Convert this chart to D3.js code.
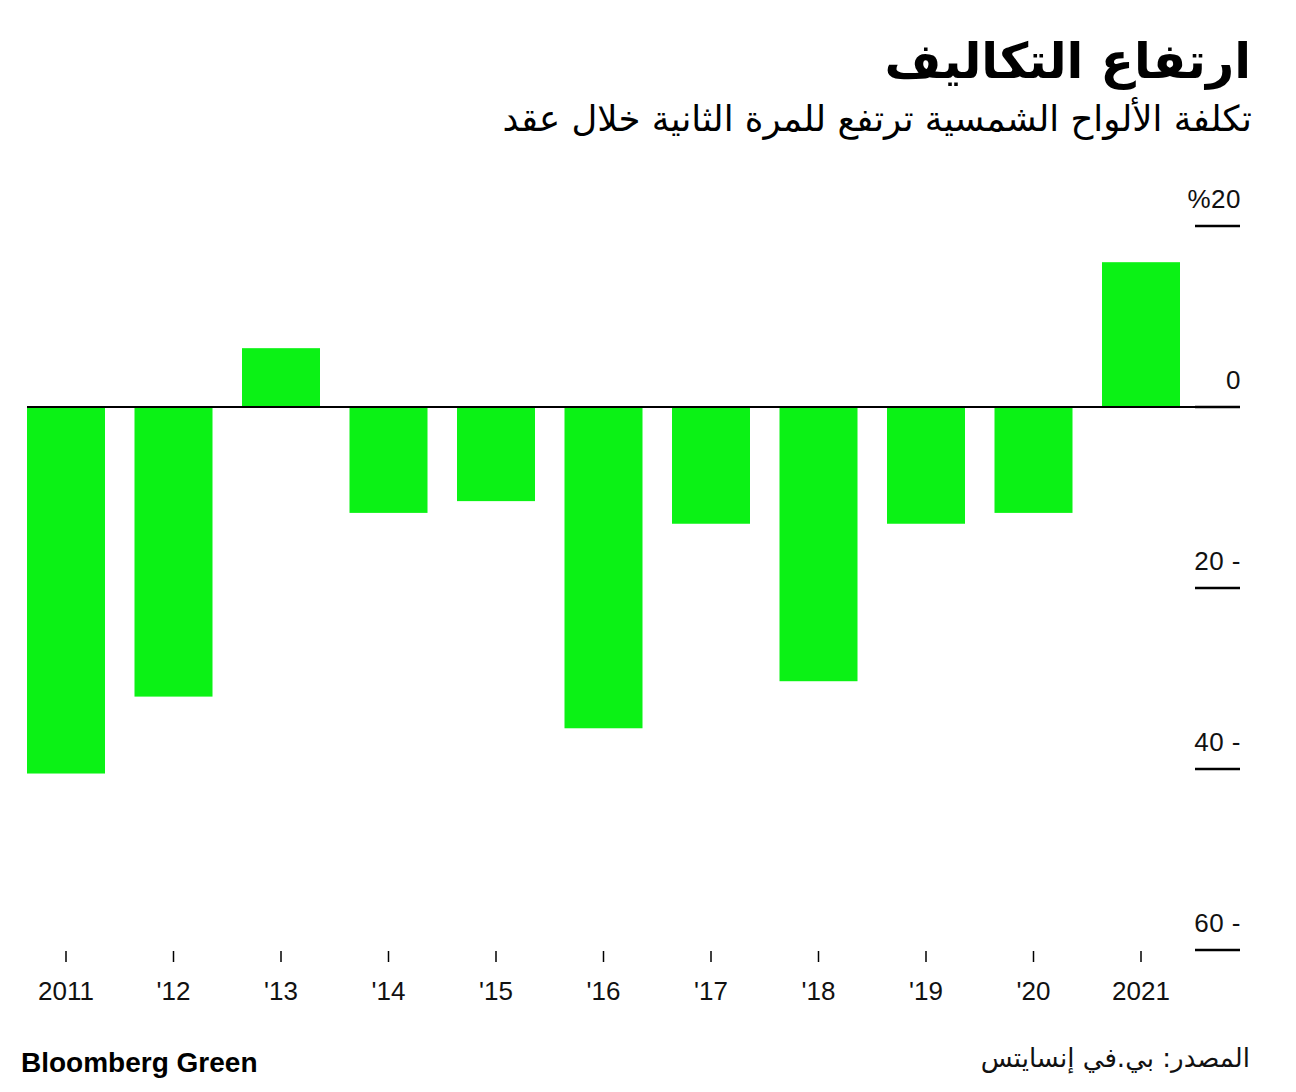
<!DOCTYPE html>
<html><head><meta charset="utf-8">
<script src="https://cdn.jsdelivr.net/npm/d3@7"></script>
<style>body{margin:0;background:#fff}</style>
</head><body>
<svg id="c" width="1296" height="1092"></svg>
<script>
const years = ["2011","'12","'13","'14","'15","'16","'17","'18","'19","'20","2021"];
const values = [-40.5,-32,6.5,-11.7,-10.4,-35.5,-12.9,-30.3,-12.9,-11.7,16];
const yTicks = [20,0,-20,-40,-60];
const yTickLabels = ["%20","0","20 -","40 -","60 -"];
const title = "ارتفاع التكاليف";
const subtitle = "تكلفة الألواح الشمسية ترتفع للمرة الثانية خلال عقد";
const source = "المصدر: بي.في إنسايتس";
const brand = "Bloomberg Green";

const svg = d3.select("#c");
const arabic = "'DejaVu Sans', sans-serif";
const latin = "'Liberation Sans', Arial, sans-serif";

const x = d3.scaleBand().domain(years).range([12.25,1194.75]).paddingInner(0.2744).paddingOuter(0.1372);
const y = d3.scaleLinear().domain([-60,20]).range([950,226]);

svg.append("text").attr("x",1251).attr("y",78).attr("text-anchor","start").attr("direction","rtl")
  .style("font-family",arabic).style("font-weight","bold").style("font-size","49px").text(title);
svg.append("text").attr("x",1252).attr("y",131).attr("text-anchor","start").attr("direction","rtl")
  .style("font-family",arabic).style("font-size","35.5px").text(subtitle);

svg.selectAll("rect.bar").data(values).join("rect").attr("class","bar")
  .attr("x",(d,i)=>x(years[i])).attr("width",x.bandwidth())
  .attr("y",d=>y(Math.max(0,d))).attr("height",d=>Math.abs(y(d)-y(0)))
  .attr("fill","#0bf215");

// zero line
svg.append("line").attr("x1",27).attr("x2",1240).attr("y1",y(0)).attr("y2",y(0)).attr("stroke","#000").attr("stroke-width",2);

// y ticks
const yg = svg.append("g");
yTicks.forEach((t,i)=>{
  yg.append("line").attr("x1",1195).attr("x2",1240).attr("y1",y(t)).attr("y2",y(t)).attr("stroke","#000").attr("stroke-width",2.5);
  yg.append("text").attr("x",1241).attr("y",y(t)-18).attr("text-anchor","end")
    .style("font-family",latin).style("font-size","26px").style("letter-spacing","0.5px").attr("fill","#111").text(yTickLabels[i]);
});

// x ticks
const xg = svg.append("g");
years.forEach(yr=>{
  const cx = x(yr)+x.bandwidth()/2;
  xg.append("line").attr("x1",cx).attr("x2",cx).attr("y1",951).attr("y2",962).attr("stroke","#000").attr("stroke-width",1.5);
  xg.append("text").attr("x",cx).attr("y",1000).attr("text-anchor","middle")
    .style("font-family",latin).style("font-size","26px").attr("fill","#111").text(yr);
});

svg.append("text").attr("x",21).attr("y",1072).style("font-family",latin).style("font-weight","bold")
  .style("font-size","28px").text(brand);
svg.append("text").attr("x",1250).attr("y",1067).attr("text-anchor","start").attr("direction","rtl")
  .style("font-family",arabic).style("font-size","26px").attr("fill","#111").text(source);
</script>
</body></html>
